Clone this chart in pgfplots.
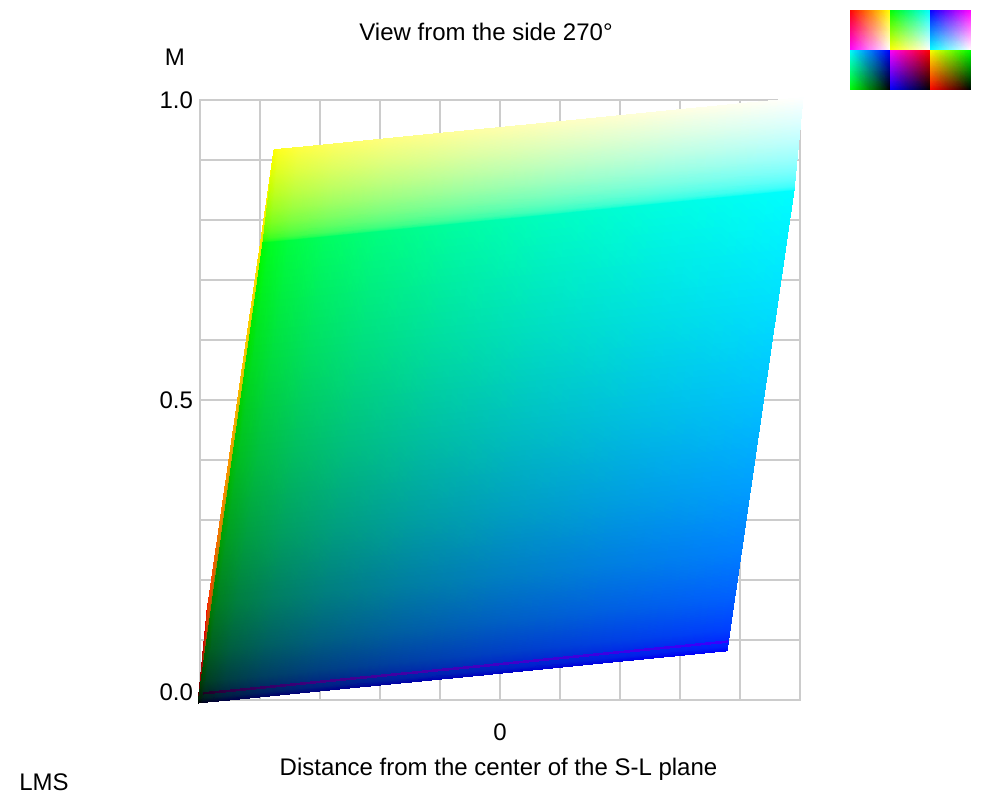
\documentclass[border=0pt]{standalone}
\usepackage{fontspec}
\setmainfont{Liberation Sans}
\usepackage{pgfplots}
\pgfplotsset{compat=1.18}
\usepgfplotslibrary{patchplots}
\definecolor{gridgrey}{HTML}{CCCCCC}
\pgfplotsset{rgbmesh/.style={surf, shader=interp, mesh/color input=explicit, mesh/cols=#1}}
\begin{document}
\begin{tikzpicture}[font=\fontsize{12}{14}\selectfont]
\path[use as bounding box] (-100pt,-50pt) rectangle (400pt,350pt);
\begin{axis}[
  at={(0,0)}, anchor=south west,
  scale only axis, width=300pt, height=300pt,
  xmin=-5, xmax=5, ymin=0, ymax=1,
  clip=false,
  xtick={-5,-4,...,5},
  xticklabels={,,,,,0,,,,,},
  xticklabel style={yshift=-8.5pt},
  ytick={0,0.1,...,1},
  yticklabels={,,,,,0.5,,,,,1.0},
  extra y ticks={0},
  extra y tick labels={0.0},
  extra y tick style={tick label style={yshift=4pt}, grid=none},
  major tick length=0pt,
  grid=major,
  grid style={gridgrey, line width=1pt},
  axis line style={gridgrey, line width=1pt},
  xlabel={Distance from the center of the S-L plane},
  xlabel style={at={(axis description cs:0.4975,-0.1150)}, anchor=center},
  ylabel={M},
  ylabel style={at={(axis description cs:-0.0417,1.0717)}, rotate=-90, anchor=center},
  title={View from the side 270°},
  title style={at={(axis description cs:0.4767,1.0933)}, anchor=center},
]
% B=0 face, only a sliver of it shows on the left
\addplot[rgbmesh=5] table[meta=c] {
x y c
-5.033 -0.005 0,0,0
-4.980 0.031 0,0.25,0
-4.790 0.162 0,0.5,0
-4.440 0.403 0,0.75,0
-3.916 0.763 0,1,0
-5.026 0.002 0.25,0,0
-4.973 0.038 0.25,0.25,0
-4.783 0.169 0.25,0.5,0
-4.433 0.410 0.25,0.75,0
-3.909 0.770 0.25,1,0
-5.000 0.029 0.5,0,0
-4.947 0.065 0.5,0.25,0
-4.757 0.196 0.5,0.5,0
-4.407 0.437 0.5,0.75,0
-3.883 0.797 0.5,1,0
-4.953 0.077 0.75,0,0
-4.900 0.113 0.75,0.25,0
-4.710 0.244 0.75,0.5,0
-4.360 0.485 0.75,0.75,0
-3.836 0.845 0.75,1,0
-4.883 0.149 1,0,0
-4.830 0.185 1,0.25,0
-4.640 0.316 1,0.5,0
-4.290 0.557 1,0.75,0
-3.766 0.917 1,1,0
};
% R=0 face, black blue cyan green
\addplot[rgbmesh=9] table[meta=c] {
x y c
-5.033 -0.005 0,0,0
-4.942 -0.004 0,0,0.125
-4.615 -0.001 0,0,0.25
-4.014 0.005 0,0,0.375
-3.114 0.014 0,0,0.5
-1.898 0.026 0,0,0.625
-0.351 0.041 0,0,0.75
1.536 0.060 0,0,0.875
3.784 0.082 0,0,1
-5.021 0.003 0,0.125,0
-4.930 0.004 0,0.125,0.125
-4.603 0.007 0,0.125,0.25
-4.002 0.013 0,0.125,0.375
-3.102 0.022 0,0.125,0.5
-1.886 0.034 0,0.125,0.625
-0.339 0.049 0,0.125,0.75
1.548 0.068 0,0.125,0.875
3.796 0.090 0,0.125,1
-4.982 0.031 0,0.25,0
-4.889 0.032 0,0.25,0.125
-4.562 0.035 0,0.25,0.25
-3.961 0.041 0,0.25,0.375
-3.061 0.050 0,0.25,0.5
-1.845 0.062 0,0.25,0.625
-0.298 0.077 0,0.25,0.75
1.589 0.096 0,0.25,0.875
3.837 0.118 0,0.25,1
-4.908 0.084 0,0.375,0
-4.813 0.085 0,0.375,0.125
-4.486 0.088 0,0.375,0.25
-3.885 0.094 0,0.375,0.375
-2.985 0.103 0,0.375,0.5
-1.769 0.115 0,0.375,0.625
-0.222 0.130 0,0.375,0.75
1.665 0.149 0,0.375,0.875
3.913 0.171 0,0.375,1
-4.797 0.162 0,0.5,0
-4.699 0.163 0,0.5,0.125
-4.372 0.166 0,0.5,0.25
-3.771 0.172 0,0.5,0.375
-2.871 0.181 0,0.5,0.5
-1.655 0.193 0,0.5,0.625
-0.108 0.208 0,0.5,0.75
1.779 0.227 0,0.5,0.875
4.027 0.249 0,0.5,1
-4.648 0.268 0,0.625,0
-4.545 0.269 0,0.625,0.125
-4.218 0.272 0,0.625,0.25
-3.617 0.278 0,0.625,0.375
-2.717 0.287 0,0.625,0.5
-1.501 0.299 0,0.625,0.625
0.046 0.314 0,0.625,0.75
1.933 0.333 0,0.625,0.875
4.181 0.355 0,0.625,1
-4.458 0.403 0,0.75,0
-4.349 0.404 0,0.75,0.125
-4.022 0.407 0,0.75,0.25
-3.421 0.413 0,0.75,0.375
-2.521 0.422 0,0.75,0.5
-1.305 0.434 0,0.75,0.625
0.242 0.449 0,0.75,0.75
2.129 0.468 0,0.75,0.875
4.377 0.490 0,0.75,1
-4.226 0.567 0,0.875,0
-4.110 0.568 0,0.875,0.125
-3.783 0.571 0,0.875,0.25
-3.182 0.577 0,0.875,0.375
-2.282 0.586 0,0.875,0.5
-1.066 0.598 0,0.875,0.625
0.481 0.613 0,0.875,0.75
2.368 0.632 0,0.875,0.875
4.616 0.654 0,0.875,1
-3.949 0.763 0,1,0
-3.825 0.764 0,1,0.125
-3.498 0.767 0,1,0.25
-2.897 0.773 0,1,0.375
-1.997 0.782 0,1,0.5
-0.781 0.794 0,1,0.625
0.766 0.809 0,1,0.75
2.653 0.828 0,1,0.875
4.901 0.850 0,1,1
};
% G=1 face, green cyan white yellow
\addplot[rgbmesh=9] table[meta=c] {
x y c
-3.949 0.763 0,1,0
-3.825 0.764 0,1,0.125
-3.498 0.767 0,1,0.25
-2.897 0.773 0,1,0.375
-1.997 0.782 0,1,0.5
-0.781 0.794 0,1,0.625
0.766 0.809 0,1,0.75
2.653 0.828 0,1,0.875
4.901 0.850 0,1,1
-3.947 0.765 0.125,1,0
-3.823 0.766 0.125,1,0.125
-3.496 0.769 0.125,1,0.25
-2.895 0.775 0.125,1,0.375
-1.995 0.784 0.125,1,0.5
-0.779 0.796 0.125,1,0.625
0.768 0.811 0.125,1,0.75
2.655 0.830 0.125,1,0.875
4.903 0.852 0.125,1,1
-3.940 0.770 0.25,1,0
-3.818 0.771 0.25,1,0.125
-3.491 0.774 0.25,1,0.25
-2.890 0.780 0.25,1,0.375
-1.990 0.789 0.25,1,0.5
-0.774 0.801 0.25,1,0.625
0.773 0.816 0.25,1,0.75
2.660 0.835 0.25,1,0.875
4.908 0.857 0.25,1,1
-3.928 0.781 0.375,1,0
-3.808 0.782 0.375,1,0.125
-3.481 0.785 0.375,1,0.25
-2.880 0.791 0.375,1,0.375
-1.980 0.800 0.375,1,0.5
-0.764 0.812 0.375,1,0.625
0.783 0.827 0.375,1,0.75
2.670 0.846 0.375,1,0.875
4.918 0.868 0.375,1,1
-3.909 0.797 0.5,1,0
-3.792 0.798 0.5,1,0.125
-3.465 0.801 0.5,1,0.25
-2.864 0.807 0.5,1,0.375
-1.964 0.816 0.5,1,0.5
-0.748 0.828 0.5,1,0.625
0.799 0.843 0.5,1,0.75
2.686 0.862 0.5,1,0.875
4.934 0.884 0.5,1,1
-3.884 0.818 0.625,1,0
-3.772 0.819 0.625,1,0.125
-3.445 0.822 0.625,1,0.25
-2.844 0.828 0.625,1,0.375
-1.944 0.837 0.625,1,0.5
-0.728 0.849 0.625,1,0.625
0.819 0.864 0.625,1,0.75
2.706 0.883 0.625,1,0.875
4.954 0.905 0.625,1,1
-3.851 0.845 0.75,1,0
-3.745 0.846 0.75,1,0.125
-3.418 0.849 0.75,1,0.25
-2.817 0.855 0.75,1,0.375
-1.917 0.864 0.75,1,0.5
-0.701 0.876 0.75,1,0.625
0.846 0.891 0.75,1,0.75
2.733 0.910 0.75,1,0.875
4.981 0.932 0.75,1,1
-3.812 0.878 0.875,1,0
-3.713 0.879 0.875,1,0.125
-3.386 0.882 0.875,1,0.25
-2.785 0.888 0.875,1,0.375
-1.885 0.897 0.875,1,0.5
-0.669 0.909 0.875,1,0.625
0.878 0.924 0.875,1,0.75
2.765 0.943 0.875,1,0.875
5.013 0.965 0.875,1,1
-3.766 0.917 1,1,0
-3.675 0.918 1,1,0.125
-3.348 0.921 1,1,0.25
-2.747 0.927 1,1,0.375
-1.847 0.936 1,1,0.5
-0.631 0.948 1,1,0.625
0.916 0.963 1,1,0.75
2.803 0.982 1,1,0.875
5.051 1.004 1,1,1
};
% thin purple stripe above the bottom edge
\addplot[rgbmesh=8] table[meta=c] {
x y c
-4.942 0.0100 0.12,0,0.125
-4.615 0.0130 0.17,0,0.25
-4.014 0.0190 0.2,0,0.375
-3.114 0.0280 0.24,0,0.5
-1.898 0.0400 0.26,0,0.625
-0.351 0.0550 0.26,0,0.75
1.536 0.0740 0.24,0,0.875
3.784 0.0960 0.22,0,1
-4.942 0.0125 0.12,0,0.125
-4.615 0.0155 0.17,0,0.25
-4.014 0.0215 0.2,0,0.375
-3.114 0.0305 0.24,0,0.5
-1.898 0.0425 0.26,0,0.625
-0.351 0.0575 0.26,0,0.75
1.536 0.0765 0.24,0,0.875
3.784 0.0985 0.22,0,1
};
\node at (axis description cs:-0.26,-0.1367) {LMS};
\end{axis}
% colour key, top right
\begin{axis}[
  at={(325pt,305pt)}, anchor=south west,
  scale only axis, width=60pt, height=40pt,
  xmin=0, xmax=3, ymin=0, ymax=2,
  hide axis,
]
\addplot[rgbmesh=3] table[meta=c] {
x y c
0 1 1,0,1
0.5 1 1,0.5,1
1 1 1,1,1
0 1.5 1,0,0.5
0.5 1.5 1,0.5,0.5
1 1.5 1,1,0.5
0 2 1,0,0
0.5 2 1,0.5,0
1 2 1,1,0
};
\addplot[rgbmesh=3] table[meta=c] {
x y c
1 1 1,1,0
1.5 1 1,1,0.5
2 1 1,1,1
1 1.5 0.5,1,0
1.5 1.5 0.5,1,0.5
2 1.5 0.5,1,1
1 2 0,1,0
1.5 2 0,1,0.5
2 2 0,1,1
};
\addplot[rgbmesh=3] table[meta=c] {
x y c
2 1 0,1,1
2.5 1 0.5,1,1
3 1 1,1,1
2 1.5 0,0.5,1
2.5 1.5 0.5,0.5,1
3 1.5 1,0.5,1
2 2 0,0,1
2.5 2 0.5,0,1
3 2 1,0,1
};
\addplot[rgbmesh=3] table[meta=c] {
x y c
0 0 0,1,0
0.5 0 0,0.5,0
1 0 0,0,0
0 0.5 0,1,0.5
0.5 0.5 0,0.5,0.5
1 0.5 0,0,0.5
0 1 0,1,1
0.5 1 0,0.5,1
1 1 0,0,1
};
\addplot[rgbmesh=3] table[meta=c] {
x y c
1 0 0,0,1
1.5 0 0,0,0.5
2 0 0,0,0
1 0.5 0.5,0,1
1.5 0.5 0.5,0,0.5
2 0.5 0.5,0,0
1 1 1,0,1
1.5 1 1,0,0.5
2 1 1,0,0
};
\addplot[rgbmesh=3] table[meta=c] {
x y c
2 0 1,0,0
2.5 0 0.5,0,0
3 0 0,0,0
2 0.5 1,0.5,0
2.5 0.5 0.5,0.5,0
3 0.5 0,0.5,0
2 1 1,1,0
2.5 1 0.5,1,0
3 1 0,1,0
};
\end{axis}
\end{tikzpicture}
\end{document}
